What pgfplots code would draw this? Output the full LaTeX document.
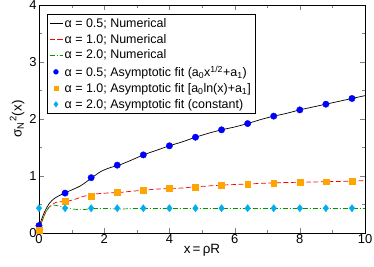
\documentclass[border=0pt]{standalone}
\usepackage{pgfplots}
\pgfplotsset{compat=1.18}
\usepackage{fontspec}
\setmainfont{Liberation Sans}
\definecolor{myorange}{RGB}{255,165,0}
\definecolor{mygreen}{RGB}{0,150,0}
\begin{document}
\begin{tikzpicture}
\path[use as bounding box] (-39bp,-34bp) rectangle (335bp,233bp);
\begin{axis}[
  at={(0,0)}, anchor=south west,
  scale only axis, width=326bp, height=228bp,
  xmin=0, xmax=10, ymin=0, ymax=4,
  xtick={0,2,4,6,8,10}, ytick={0,1,2,3,4},
  minor xtick={1,3,5,7,9}, minor ytick={0.5,1.5,2.5,3.5},
  tick align=inside, tick pos=both,
  major tick length=5bp, minor tick length=3bp,
  /pgf/number format/assume math mode=true,
  tick label style={font=\fontsize{13}{15}\selectfont},
  xticklabel style={yshift=2bp},
  yticklabel style={xshift=1bp},
  label style={font=\fontsize{13.5}{15}\selectfont},
  xlabel={x\,=\,ρR},
  ylabel={σ\textsubscript{N}\textsuperscript{2}(x)},
  xlabel style={yshift=6bp},
  ylabel style={yshift=-2bp},
  legend style={at={(0.0245,0.96)}, anchor=north west, draw=black, line width=0.5pt,
    font=\fontsize{12.5}{14.5}\selectfont, row sep=1.3bp, inner sep=2bp},
  legend cell align=left,
  legend image post style={scale=0.75},
]
\addplot[black, line width=0.7pt, smooth] coordinates {
(0,0.12) (0.17,0.37) (0.32,0.52) (0.48,0.61) (0.78,0.70) (1.25,0.82) (1.6,0.96)
(1.9,1.08) (2.2,1.15) (2.45,1.19) (2.8,1.27) (3.2,1.37) (3.6,1.45) (4.0,1.53)
(4.4,1.60) (4.8,1.68) (5.2,1.75) (5.6,1.81) (6.0,1.86) (6.4,1.92) (6.8,1.99)
(7.2,2.05) (7.6,2.10) (8.0,2.16) (8.4,2.21) (8.8,2.26) (9.2,2.31) (9.6,2.36) (10,2.41)};
\addlegendentry{α = 0.5; Numerical}
\addplot[red, line width=0.7pt, dash pattern=on 5bp off 2.5bp, smooth] coordinates {
(0,0.05) (0.17,0.32) (0.32,0.46) (0.53,0.54) (0.78,0.55) (1.04,0.58) (1.35,0.64)
(1.65,0.68) (2.06,0.70) (2.45,0.71) (2.8,0.73) (3.2,0.75) (3.6,0.77) (4.0,0.78)
(4.4,0.79) (4.8,0.81) (5.6,0.84) (6.4,0.86) (7.2,0.88) (8.0,0.89) (8.8,0.90) (9.6,0.91) (10,0.92)};
\addlegendentry{α = 1.0; Numerical}
\addplot[mygreen, line width=0.7pt, dash pattern=on 5bp off 2bp on 1bp off 2bp, smooth] coordinates {
(0,0.05) (0.17,0.32) (0.32,0.46) (0.43,0.49) (0.73,0.46) (1.04,0.42) (1.35,0.41)
(1.65,0.43) (2.06,0.43) (2.45,0.42) (3.0,0.43) (3.6,0.43) (4.2,0.43) (5,0.43)
(6,0.43) (7,0.43) (8,0.43) (9,0.43) (10,0.43)};
\addlegendentry{α = 2.0; Numerical}
\addplot[only marks, mark=*, mark size=3.2bp, blue, mark options={fill=blue, draw=blue}] coordinates {
(0,0.13) (0.8,0.70) (1.6,0.97) (2.4,1.19) (3.2,1.37) (4.0,1.53) (4.8,1.68)
(5.6,1.81) (6.4,1.92) (7.2,2.05) (8.0,2.16) (8.8,2.26) (9.6,2.36)};
\addlegendentry{α = 0.5; Asymptotic fit (a\textsubscript{0}x\textsuperscript{1/2}+a\textsubscript{1})}
\addplot[only marks, mark=square*, mark size=2.9bp, myorange, mark options={fill=myorange, draw=myorange}] coordinates {
(0,0.05) (0.8,0.56) (1.6,0.65) (2.4,0.71) (3.2,0.75) (4.0,0.78) (4.8,0.81)
(5.6,0.84) (6.4,0.86) (7.2,0.88) (8.0,0.89) (8.8,0.90) (9.6,0.91)};
\addlegendentry{α = 1.0; Asymptotic fit [a\textsubscript{0}ln(x)+a\textsubscript{1}]}
\addplot[only marks, mark=diamond*, mark size=3.6bp, cyan, mark options={fill=cyan, draw=cyan}] coordinates {
(0,0.435) (0.8,0.435) (1.6,0.435) (2.4,0.435) (3.2,0.435) (4.0,0.435) (4.8,0.435)
(5.6,0.435) (6.4,0.435) (7.2,0.435) (8.0,0.435) (8.8,0.435) (9.6,0.435)};
\addlegendentry{α = 2.0; Asymptotic fit (constant)}
\end{axis}
\end{tikzpicture}
\end{document}
